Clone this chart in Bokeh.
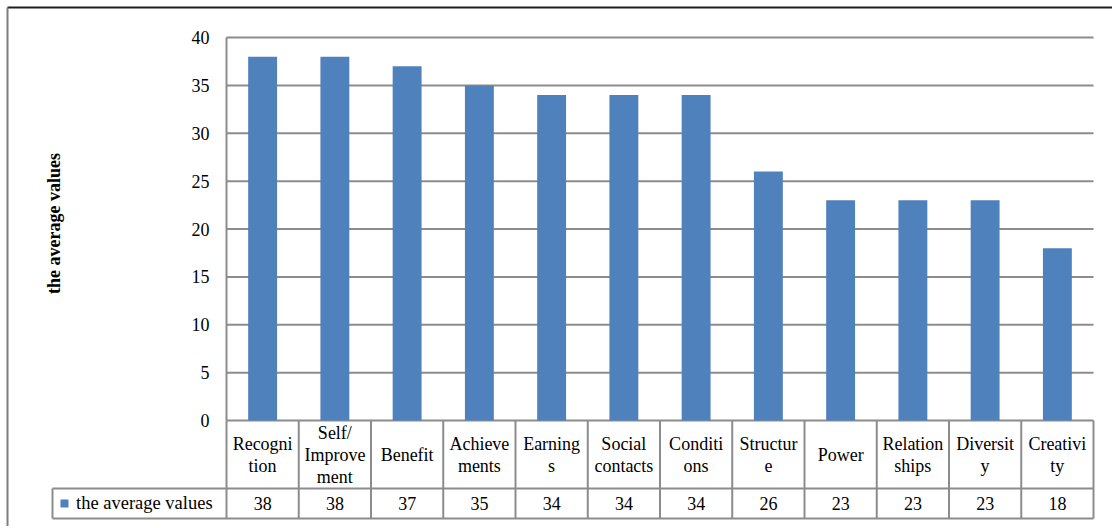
from bokeh.plotting import figure
from bokeh.models import Range1d, FixedTicker, Legend, LegendItem, ColumnDataSource
from bokeh.embed import file_html
from bokeh.resources import INLINE
from bokeh.core.properties import value

# ---- data ----
categories = ["Recognition", "Self/Improvement", "Benefit", "Achievements", "Earnings",
              "Social contacts", "Conditions", "Structure", "Power", "Relationships",
              "Diversity", "Creativity"]
table_labels = ["Recogni\ntion", "Self/\nImprove\nment", "Benefit", "Achieve\nments", "Earning\ns",
                "Social\ncontacts", "Conditi\nons", "Structur\ne", "Power", "Relation\nships",
                "Diversit\ny", "Creativi\nty"]
values = [38, 38, 37, 35, 34, 34, 34, 26, 23, 23, 23, 18]
y_ticks = [0, 5, 10, 15, 20, 25, 30, 35, 40]
series_name = "the average values"

# ---- geometry (page pixels) ----
W, H = 1112, 526
X0_PX, CW = 226.0, 72.25          # left of first category column, column width
Y0_PX, Y40_PX = 420.0, 37.0
PPU = (Y0_PX - Y40_PX) / 40.0


def px_to_x(px):
    return (px - X0_PX) / CW


def px_to_y(px):
    return (Y0_PX - px) / PPU


row1_mid = px_to_y(454)
row2_mid = px_to_y(503)
row_sep = px_to_y(488)
table_bottom = px_to_y(518)
legend_left = px_to_x(52)

GRID = "#8c8c8c"
FONT = "Liberation Serif"
FS = "18px"
n = len(categories)

p = figure(width=W, height=H, title=None,
           x_range=Range1d(px_to_x(0), px_to_x(W)),
           y_range=Range1d(px_to_y(H), px_to_y(0)),
           x_axis_location=None,
           min_border=0, min_border_left=0, min_border_right=0,
           min_border_top=0, min_border_bottom=0,
           output_backend="svg", toolbar_location=None)
p.outline_line_color = None
p.background_fill_color = "white"
p.border_fill_color = "white"
p.xgrid.visible = False
p.ygrid.visible = False

src = ColumnDataSource(dict(x=[i + 0.5 for i in range(n)], cat=categories, val=values,
                            lab=table_labels, vtxt=[str(v) for v in values]))

# outer frame of the chart
p.segment(x0=[px_to_x(7)], y0=[px_to_y(7)], x1=[px_to_x(W)], y1=[px_to_y(7)],
          line_color="#1e1e1e", line_width=2)
p.segment(x0=[px_to_x(7)], y0=[px_to_y(7)], x1=[px_to_x(7)], y1=[px_to_y(H)],
          line_color="#7f7f7f", line_width=2)

# horizontal grid lines at the y ticks
p.segment(x0=[0] * len(y_ticks), y0=y_ticks, x1=[n] * len(y_ticks), y1=y_ticks,
          line_color=GRID, line_width=2)

# y axis (fixed at the left edge of the plot area)
ax = p.yaxis[0]
ax.fixed_location = 0
ax.bounds = (0, 41.15)
ax.ticker = FixedTicker(ticks=y_ticks)
ax.axis_line_color = None
ax.major_tick_line_color = None
ax.minor_tick_line_color = None
ax.major_label_standoff = 11
ax.major_label_text_font = FONT
ax.major_label_text_font_size = FS
ax.major_label_text_color = "black"
ax.axis_label = series_name
ax.axis_label_text_font = FONT
ax.axis_label_text_font_size = FS
ax.axis_label_text_font_style = "bold"
ax.axis_label_text_color = "black"
ax.axis_label_standoff = 125

# bars
bars = p.vbar(x="x", top="val", width=0.4, source=src,
              fill_color="#4f81bd", line_color=None)

# data table lines
bounds = list(range(n + 1))
p.segment(x0=bounds, y0=[0] * (n + 1), x1=bounds, y1=[table_bottom] * (n + 1),
          line_color=GRID, line_width=2)
p.segment(x0=[0, legend_left], y0=[0, row_sep], x1=[0, legend_left], y1=[40, table_bottom],
          line_color=GRID, line_width=2)
p.segment(x0=[legend_left, legend_left], y0=[row_sep, table_bottom], x1=[n, n],
          y1=[row_sep, table_bottom], line_color=GRID, line_width=2)

# data table texts
p.text(x="x", y=row1_mid, text="lab", source=src, text_align="center",
       text_baseline="middle", text_font=value(FONT), text_font_size=FS,
       text_line_height=1.1, text_color="black")
p.text(x="x", y=row2_mid, text="vtxt", source=src, text_align="center",
       text_baseline="middle", text_font=value(FONT), text_font_size=FS,
       text_color="black")

# legend key inside the table's first cell
legend = Legend(items=[LegendItem(label=series_name, renderers=[bars])],
                location=(59, H - 514),
                orientation="vertical",
                padding=4, margin=0, spacing=0,
                glyph_width=10, glyph_height=10, label_standoff=7,
                label_width=140, label_height=22,
                label_text_font=FONT, label_text_font_size="18.5px", label_text_color="black",
                border_line_color=None,
                background_fill_alpha=0.0)
p.add_layout(legend)

open("out.html", "w").write(file_html(p, INLINE))
